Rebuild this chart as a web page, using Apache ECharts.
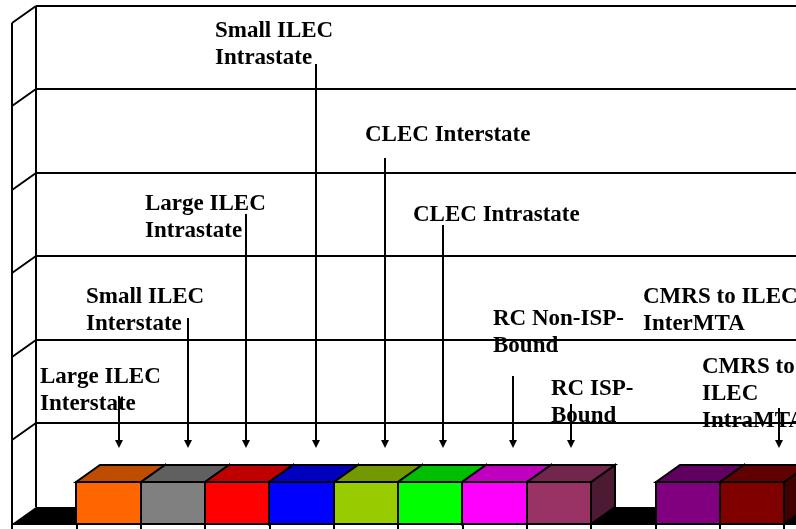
<!DOCTYPE html>
<html>
<head>
<meta charset="utf-8">
<style>html,body{margin:0;padding:0;background:#fff;overflow:hidden}#c{width:796px;height:529px}</style>
<script src="https://cdn.jsdelivr.net/npm/echarts@6/dist/echarts.min.js"></script>
</head>
<body>
<div id="c"></div>
<script>
// ---- data ----
const categories = ['', 'Large ILEC Interstate', 'Small ILEC Interstate', 'Large ILEC Intrastate',
  'Small ILEC Intrastate', 'CLEC Interstate', 'CLEC Intrastate', 'RC Non-ISP-Bound', 'RC ISP-Bound',
  '', 'CMRS to ILEC InterMTA', 'CMRS to ILEC IntraMTA', ''];
const barValues = [null, 2.5, 2.5, 2.5, 2.5, 2.5, 2.5, 2.5, 2.5, null, 2.5, 2.5, null];
const valueTicks = [0, 5, 10, 15, 20, 25, 30];
const labelLines = [
  ['Large ILEC', 'Interstate'], ['Small ILEC', 'Interstate'], ['Large ILEC', 'Intrastate'],
  ['Small ILEC', 'Intrastate'], ['CLEC Interstate'], ['CLEC Intrastate'],
  ['RC Non-ISP-', 'Bound'], ['RC ISP-', 'Bound'], ['CMRS to ILEC', 'InterMTA'], ['CMRS to', 'ILEC', 'IntraMTA']
];
// ---- layout and style (separate from data) ----
const palette = [null, '#FF6600', '#808080', '#FF0000', '#0000FF', '#99CC00', '#00FF00', '#FF00FF', '#993366', null, '#800080', '#800000', null];
const labelX = [40, 86, 145, 215, 365, 413, 493, 551, 643, 702];
const labelY = [377, 297, 204, 31, 135, 215, 319, 389, 297, 367];
const arrowX = [119, 188, 246, 316, 385, 443, 513, 571, 687, 779];
const arrowTop = [396, 318, 214, 64, 158, 225, 376, 404, 342, 408];
const DX = 24, DY = 17, LINE_H = 27, FONT = 23, ARROW_GAP = 34;

function shade(hex, f) {
  const n = parseInt(hex.slice(1), 16);
  const c = [n >> 16, (n >> 8) & 255, n & 255].map(v => Math.round(v * f));
  return 'rgb(' + c.join(',') + ')';
}
const lineStyle = { stroke: '#000', lineWidth: 2, fill: null };
function seg(x1, y1, x2, y2, z2) {
  return { type: 'line', shape: { x1, y1, x2, y2 }, style: lineStyle, z2: z2 || 1 };
}

function renderWalls(params, api) {
  const v = api.value(1);
  const cs = params.coordSys;
  const y = Math.round(api.coord([0, v])[1]);
  const left = cs.x, right = cs.x + cs.width;
  const children = [];
  if (v === 0) {
    children.push({ type: 'polygon', shape: { points: [[left, y], [left + DX, y - DY], [right + DX, y - DY], [right, y]] }, style: { fill: '#000' } });
    const top = Math.round(api.coord([0, valueTicks[valueTicks.length - 1]])[1]);
    children.push(seg(left, y, left, top));
    children.push(seg(left + DX, y - DY, left + DX, top - DY));
  } else {
    children.push(seg(left, y, left + DX, y - DY));
    children.push(seg(left + DX, y - DY, right + DX, y - DY));
  }
  return { type: 'group', children };
}

function renderBar(params, api) {
  const i = api.value(0), v = api.value(1);
  const color = palette[i];
  if (!color || isNaN(v)) return null;
  const size = api.size([1, 0])[0];
  const x0 = Math.round(api.coord([i, 0])[0] - size / 2);
  const x1 = Math.round(api.coord([i, 0])[0] + size / 2);
  const y0 = Math.round(api.coord([i, 0])[1]);
  const y1 = Math.round(api.coord([i, v])[1]);
  const st = fill => ({ fill, stroke: '#000', lineWidth: 2, lineJoin: 'miter' });
  return { type: 'group', children: [
    { type: 'polygon', shape: { points: [[x1, y0], [x1 + DX, y0 - DY], [x1 + DX, y1 - DY], [x1, y1]] }, style: st(shade(color, 0.5)) },
    { type: 'polygon', shape: { points: [[x0, y1], [x0 + DX, y1 - DY], [x1 + DX, y1 - DY], [x1, y1]] }, style: st(shade(color, 0.75)) },
    { type: 'rect', shape: { x: x0, y: y1, width: x1 - x0, height: y0 - y1 }, style: st(color) }
  ] };
}

function renderLabel(params, api) {
  const k = api.value(0);
  const barTop = api.coord([k + 1, barValues[k + 1]])[1];
  const tip = Math.round(barTop - ARROW_GAP), x = arrowX[k];
  const children = [
    seg(x, arrowTop[k], x, tip - 6),
    { type: 'polygon', shape: { points: [[x - 4, tip - 8], [x + 4, tip - 8], [x, tip]] }, style: { fill: '#000' } }
  ];
  labelLines[k].forEach((t, j) => children.push({
    type: 'text', style: { text: t, x: labelX[k], y: labelY[k] + j * LINE_H, fill: '#000',
      font: 'bold ' + FONT + 'px "Liberation Serif"', align: 'left', verticalAlign: 'middle' }
  }));
  return { type: 'group', children };
}

const chart = echarts.init(document.getElementById('c'), null, { renderer: 'canvas' });
const CAT_W = 64.35;
chart.setOption({
  animation: false,
  backgroundColor: '#fff',
  grid: { left: 12, top: 22.5, width: CAT_W * categories.length, height: 501, containLabel: false, outerBoundsMode: 'none' },
  xAxis: {
    type: 'category', data: categories, boundaryGap: true, z: 10,
    axisLine: { show: true, lineStyle: { color: '#000', width: 2 } },
    axisTick: { show: true, alignWithLabel: false, interval: 0, length: 6, lineStyle: { color: '#000', width: 2 } },
    axisLabel: { show: false, interval: 0 }, splitLine: { show: false }
  },
  yAxis: {
    type: 'value', min: 0, max: 30, interval: 5,
    axisLine: { show: false }, axisTick: { show: false }, axisLabel: { show: false }, splitLine: { show: false }
  },
  tooltip: { show: false },
  series: [
    { type: 'custom', name: 'walls', z: 1, clip: false, silent: true, renderItem: renderWalls,
      encode: { x: 0, y: 1 }, data: valueTicks.map(v => [0, v]) },
    { type: 'custom', name: 'bars', z: 2, clip: false, silent: true, renderItem: renderBar,
      encode: { x: 0, y: 1 }, data: barValues.map((v, i) => [i, v === null ? NaN : v]) },
    { type: 'custom', name: 'labels', z: 3, clip: false, silent: true, renderItem: renderLabel,
      encode: { x: 0 }, data: labelLines.map((l, k) => [k, barValues[k + 1]]) }
  ]
});
</script>
</body>
</html>
